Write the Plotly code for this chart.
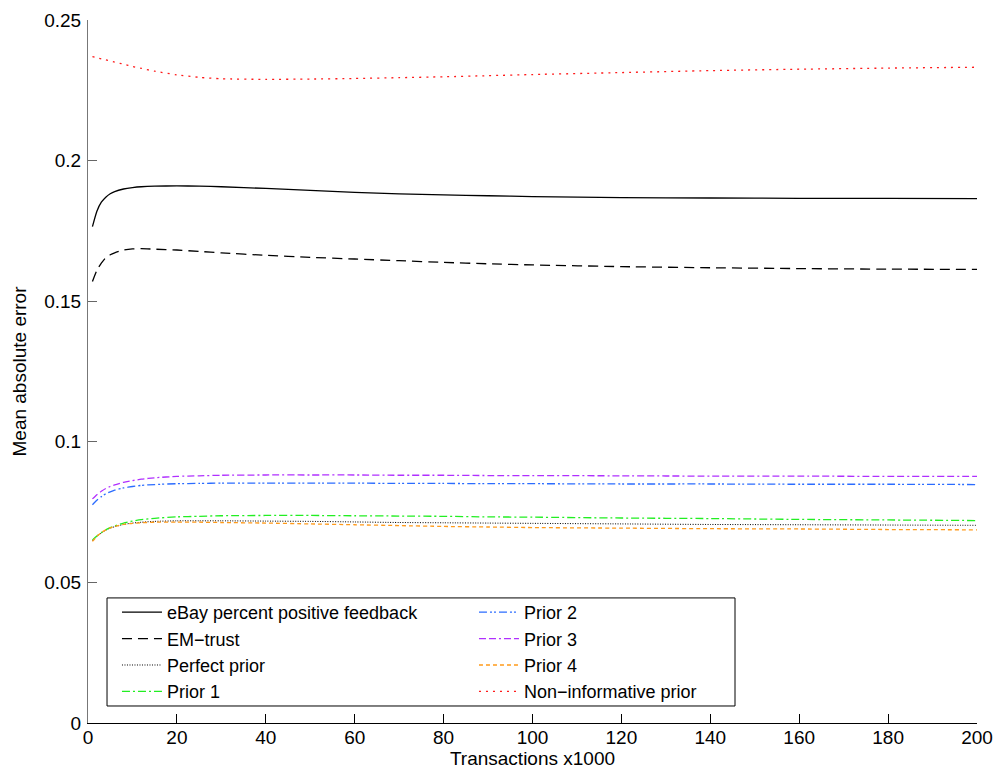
import plotly.graph_objects as go

x_k = [1, 2, 3, 4, 5, 6, 8, 10, 12, 15, 20, 25, 30, 40, 50, 60, 70, 80, 90, 100, 120, 140, 160, 180, 200]

ebay = [0.1765, 0.1820, 0.1852, 0.1870, 0.1882, 0.1890, 0.1899, 0.1904, 0.1907, 0.1909, 0.1910, 0.1909, 0.1907, 0.1901, 0.1894, 0.1887, 0.1882, 0.1878, 0.1875, 0.1872, 0.1868, 0.1867, 0.1866, 0.1866, 0.1865]
em_trust = [0.1570, 0.1610, 0.1635, 0.1655, 0.1665, 0.1672, 0.1682, 0.1686, 0.1687, 0.1685, 0.1682, 0.1677, 0.1672, 0.1663, 0.1656, 0.1650, 0.1644, 0.1638, 0.1633, 0.1629, 0.1623, 0.1619, 0.1616, 0.1614, 0.1613]
perfect = [0.0648, 0.0664, 0.0676, 0.0686, 0.0693, 0.0698, 0.0706, 0.0711, 0.0714, 0.0717, 0.0719, 0.0719, 0.0719, 0.0718, 0.0717, 0.0715, 0.0713, 0.0712, 0.0711, 0.0710, 0.0708, 0.0706, 0.0705, 0.0704, 0.0703]
prior1 = [0.0651, 0.0665, 0.0677, 0.0687, 0.0695, 0.0701, 0.0711, 0.0718, 0.0723, 0.0728, 0.0733, 0.0735, 0.0737, 0.0738, 0.0738, 0.0737, 0.0736, 0.0735, 0.0733, 0.0732, 0.0729, 0.0727, 0.0724, 0.0722, 0.0720]
prior2 = [0.0776, 0.0792, 0.0805, 0.0815, 0.0822, 0.0828, 0.0836, 0.0841, 0.0845, 0.0848, 0.0851, 0.0852, 0.0853, 0.0853, 0.0853, 0.0853, 0.0852, 0.0852, 0.0851, 0.0851, 0.0850, 0.0850, 0.0849, 0.0849, 0.0848]
prior3 = [0.0797, 0.0812, 0.0824, 0.0834, 0.0841, 0.0847, 0.0856, 0.0862, 0.0867, 0.0872, 0.0877, 0.0879, 0.0881, 0.0882, 0.0882, 0.0882, 0.0881, 0.0881, 0.0880, 0.0880, 0.0879, 0.0878, 0.0878, 0.0877, 0.0877]
prior4 = [0.0646, 0.0664, 0.0677, 0.0687, 0.0694, 0.0699, 0.0706, 0.0710, 0.0712, 0.0714, 0.0714, 0.0714, 0.0713, 0.0711, 0.0708, 0.0705, 0.0702, 0.0699, 0.0697, 0.0695, 0.0693, 0.0691, 0.0690, 0.0688, 0.0687]
noninf = [0.2370, 0.2366, 0.2362, 0.2358, 0.2354, 0.2350, 0.2343, 0.2335, 0.2328, 0.2318, 0.2305, 0.2296, 0.2291, 0.2289, 0.2290, 0.2292, 0.2295, 0.2298, 0.2302, 0.2306, 0.2313, 0.2320, 0.2325, 0.2329, 0.2332]

x_ticks = [0, 20, 40, 60, 80, 100, 120, 140, 160, 180, 200]
y_ticks = [0, 0.05, 0.1, 0.15, 0.2, 0.25]
y_tick_labels = ["0", "0.05", "0.1", "0.15", "0.2", "0.25"]

series = [
    ("eBay percent positive feedback", ebay, "black", "solid", 1, 1.3),
    ("EM\u2212trust", em_trust, "black", "10px,6px", 3, 1.3),
    ("Perfect prior", perfect, "black", "1px,1.5px", 5, 1.0),
    ("Prior 1", prior1, "#22ee22", "8px,3px,2px,3px", 7, 1.3),
    ("Prior 2", prior2, "#2b6cff", "8px,3px,2px,2px,2px,3px", 2, 1.3),
    ("Prior 3", prior3, "#b030ff", "7px,3px,7px,3px,2px,3px", 4, 1.3),
    ("Prior 4", prior4, "#ff9a1a", "4px,3px", 6, 1.3),
    ("Non\u2212informative prior", noninf, "#ff1a1a", "2px,5px", 8, 1.3),
]

fig = go.Figure()
for name, ys, color, dash, rank, w in series:
    fig.add_trace(go.Scatter(
        x=x_k, y=ys, mode="lines", name=name, legendrank=rank,
        line=dict(color=color, dash=dash, width=w, shape="spline", smoothing=0.6),
    ))

FAM = "Liberation Sans, Arial, Helvetica, sans-serif"
font = dict(family=FAM, size=19, color="black")
title_font = dict(family=FAM, size=19, color="black")

# legend frame
fig.add_shape(type="rect", xref="paper", yref="paper",
              x0=0.0214, x1=0.7278, y0=0.0242, y1=0.1779,
              line=dict(color="black", width=1), fillcolor="white", layer="below")

fig.update_layout(
    width=999, height=779,
    margin=dict(l=88, r=22, t=20, b=56, autoexpand=False),
    paper_bgcolor="white", plot_bgcolor="white",
    font=font,
    showlegend=True,
    legend=dict(
        orientation="h",
        x=0.0326, y=0.1835, xanchor="left", yanchor="top",
        bgcolor="rgba(0,0,0,0)", borderwidth=0,
        entrywidth=302, entrywidthmode="pixels",
        font=dict(family=FAM, size=18, color="black"),
        tracegroupgap=0, itemwidth=40,
    ),
    xaxis=dict(
        range=[0, 200], tickvals=x_ticks, ticks="inside", ticklen=9,
        tickcolor="black", showline=True, linecolor="black", linewidth=1,
        showgrid=False, zeroline=False, mirror=False,
        ticklabelstandoff=-3, ticklabeloverflow="allow",
        title=dict(text="Transactions x1000", standoff=4, font=title_font),
        tickfont=font,
    ),
    yaxis=dict(
        range=[0, 0.25], tickvals=y_ticks, ticktext=y_tick_labels, ticks="inside", ticklen=9,
        tickcolor="#666", showline=True, linecolor="#777", linewidth=1,
        showgrid=False, zeroline=False, mirror=False, ticklabelstandoff=2,
        ticklabeloverflow="allow",
        title=dict(text="Mean absolute error", standoff=12, font=title_font),
        tickfont=font,
    ),
)

fig.write_html(
    "out.html",
    config={"displayModeBar": False},
    post_script="document.body.style.margin='0';document.body.style.overflow='hidden';",
)
